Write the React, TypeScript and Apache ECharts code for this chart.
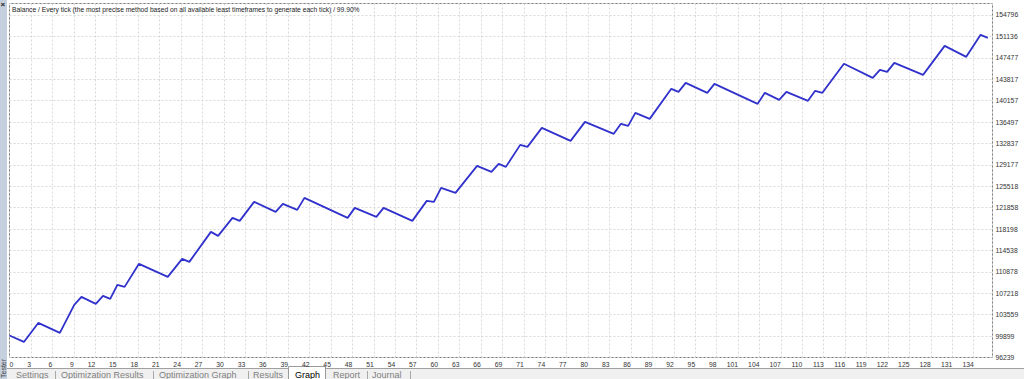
import React, { useEffect, useRef } from 'react';
import * as echarts from 'echarts';

// ---- data ----
const titleText =
  'Balance / Every tick (the most precise method based on all available least timeframes to generate each tick) / 99.90%';

// trade number of each turning point of the balance curve
const trades = [
  0, 2, 4, 7, 9, 10, 12, 13, 14, 15, 16, 18, 22, 24, 25, 28, 29, 31, 32, 34,
  37, 38, 40, 41, 47, 48, 51, 52, 56, 58, 59, 60, 62, 65, 67, 68, 69, 71, 72, 74,
  78, 80, 84, 85, 86, 87, 89, 92, 93, 94, 97, 98, 104, 105, 107, 108, 111, 112, 113, 116,
  120, 121, 122, 123, 127, 130, 133, 135, 136,
];

// balance after that trade
const balance = [
  100000, 98900, 102150, 100450, 105230, 106600, 105400, 106770, 106260, 108650,
  108310, 112250, 110020, 113100, 112590, 117720, 117030, 120110, 119600, 122850,
  121140, 122500, 121480, 123530, 120110, 121820, 120280, 121820, 119600, 123020,
  122850, 125240, 124390, 129000, 127980, 129350, 128830, 132590, 132250, 135500,
  133280, 136530, 134480, 136190, 135840, 138070, 137040, 142170, 141660, 143200,
  141490, 143030, 139610, 141490, 140290, 141660, 140120, 141830, 141490, 146450,
  144050, 145420, 145080, 146620, 144560, 149520, 147640, 151400, 150890,
];

// axis scale as drawn by the terminal
const yMin = 96238.92;
const yStep = 3659.8333;
const yMax = 156762;
const yLastLabel = 154796;
const xStep = 2.9787;
const xMax = 136.65;
const xLastLabel = 134;

const tabs = ['Settings', 'Optimization Results', 'Optimization Graph', 'Results', 'Graph', 'Report', 'Journal'];
const activeTab = 'Graph';
const sideTitle = 'Tester';

// ---- layout ----
const W = 1024;
const H = 379;
const tabTextX = [16, 61, 159, 253, 295, 333, 372];
const tabSepX = [55.5, 153.5, 248.5, 367.5, 410.5];
const FONT = 'Liberation Sans';

export default function App() {
  const ref = useRef<HTMLDivElement>(null);

  useEffect(() => {
    if (!ref.current) return;
    const chart = echarts.init(ref.current, null, { renderer: 'svg', width: W, height: H });

    const graphics: any[] = [];
    // tab bar
    graphics.push({
      type: 'rect',
      shape: { x: 0, y: 368.5, width: W, height: 12 },
      style: { fill: '#f0f0f0' },
      silent: true,
    });
    graphics.push({
      type: 'line',
      shape: { x1: 7, y1: 368.5, x2: W, y2: 368.5 },
      style: { stroke: '#a0a0a0', lineWidth: 1 },
      silent: true,
    });
    const activeIdx = tabs.indexOf(activeTab);
    graphics.push({
      type: 'rect',
      shape: { x: 288.5, y: 366.5, width: 37, height: 14 },
      style: { fill: '#ffffff', stroke: '#9a9a9a', lineWidth: 1 },
      silent: true,
    });
    tabSepX.forEach((x) => {
      graphics.push({
        type: 'line',
        shape: { x1: x, y1: 371, x2: x, y2: H },
        style: { stroke: '#a8a8a8', lineWidth: 1 },
        silent: true,
      });
    });
    tabs.forEach((t, i) => {
      graphics.push({
        type: 'text',
        x: tabTextX[i],
        y: 379,
        style: {
          text: t,
          fontSize: 9,
          fontFamily: FONT,
          fill: i === activeIdx ? '#000000' : '#808080',
          verticalAlign: 'bottom',
          align: 'left',
        },
        silent: true,
      });
    });
    // left docking strip
    graphics.push({
      type: 'rect',
      shape: { x: 0, y: 0, width: 7, height: H },
      style: { fill: '#c4d0de' },
      silent: true,
    });
    graphics.push({
      type: 'text',
      x: 0.5,
      y: 0,
      style: { text: '×', fontSize: 8, fontFamily: FONT, fill: '#222', fontWeight: 'bold', verticalAlign: 'top' },
      silent: true,
    });
    graphics.push({
      type: 'text',
      x: 0,
      y: 378,
      rotation: Math.PI / 2,
      style: {
        text: sideTitle,
        fontSize: 7,
        fontFamily: FONT,
        fill: '#444',
        verticalAlign: 'top',
        align: 'left',
      },
      silent: true,
    });
    // chart title inside the plot
    graphics.push({
      type: 'text',
      x: 12,
      y: 9,
      style: {
        text: titleText,
        fontSize: 6.7,
        fontFamily: FONT,
        fill: '#222',
        verticalAlign: 'middle',
        align: 'left',
      },
      silent: true,
      z: 100,
    });

    chart.setOption({
      animation: false,
      backgroundColor: '#ffffff',
      textStyle: { fontFamily: FONT },
      grid: {
        left: 9.5,
        right: 31.5,
        top: 3.5,
        bottom: 21.5,
        show: true,
        borderColor: '#808080',
        borderWidth: 1,
        backgroundColor: '#ffffff',
        containLabel: false,
      },
      xAxis: {
        type: 'value',
        min: 0,
        max: xMax,
        interval: xStep,
        axisLine: { show: false },
        axisTick: { show: false },
        splitLine: { show: true, lineStyle: { color: '#d9d9d9', type: [2, 2], width: 1 } },
        axisLabel: {
          formatter: (v: number) => (v > xLastLabel + 0.5 ? '' : String(Math.round(v))),
          fontSize: 6.8,
          fontFamily: FONT,
          color: '#333',
          margin: 3,
          align: 'right',
          alignMinLabel: 'left',
        },
      },
      yAxis: {
        type: 'value',
        position: 'right',
        min: yMin,
        max: yMax,
        interval: yStep,
        scale: true,
        axisLine: { show: false },
        axisTick: { show: false },
        splitLine: { show: true, lineStyle: { color: '#d9d9d9', type: [2, 2], width: 1 } },
        axisLabel: {
          formatter: (v: number) => (v > yLastLabel + 1 ? '' : String(Math.round(v))),
          fontSize: 6.8,
          fontFamily: FONT,
          color: '#333',
          margin: 3,
        },
      },
      series: [
        {
          type: 'line',
          data: trades.map((t, i) => [t, balance[i]]),
          showSymbol: false,
          symbol: 'none',
          lineStyle: { color: '#3131cc', width: 1.8 },
          z: 10,
        },
      ],
      graphic: graphics,
    });

    return () => chart.dispose();
  }, []);

  return (
    <div
      ref={ref}
      style={{ position: 'fixed', left: 0, top: 0, width: W, height: H, background: '#fff' }}
    />
  );
}
